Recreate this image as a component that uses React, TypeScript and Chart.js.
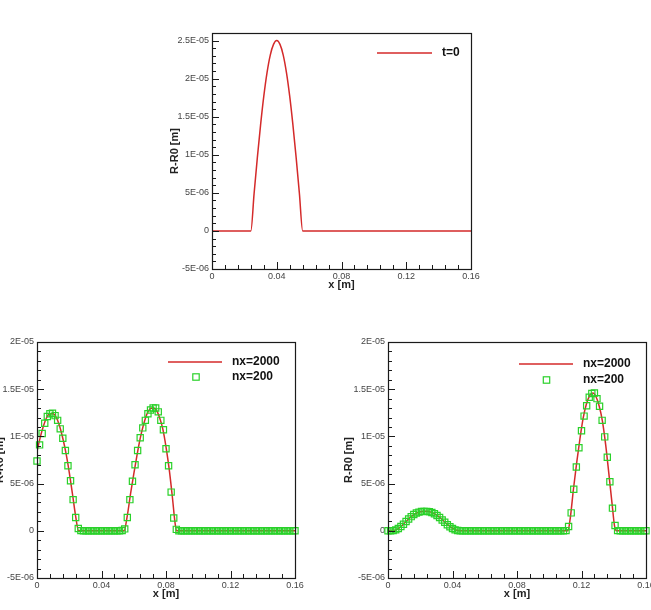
import React, { useEffect, useRef } from 'react';
import { Chart, registerables } from 'chart.js';
Chart.register(...registerables);

const FONT = "'Liberation Sans', Arial, sans-serif";
const RED = '#d42a2a';
const GREEN = '#2ad12a';

// ---- axis ticks / labels ----
const X_TICKS = [0, 0.04, 0.08, 0.12, 0.16];
const X_TICK_LABELS = ['0', '0.04', '0.08', '0.12', '0.16'];
// y values are in micrometres; labels show metres as in the original
const Y_TICKS_TOP = [-5, 0, 5, 10, 15, 20, 25];
const Y_TICK_LABELS_TOP = ['-5E-06', '0', '5E-06', '1E-05', '1.5E-05', '2E-05', '2.5E-05'];
const Y_TICKS_BOTTOM = [-5, 0, 5, 10, 15, 20];
const Y_TICK_LABELS_BOTTOM = ['-5E-06', '0', '5E-06', '1E-05', '1.5E-05', '2E-05'];

// ---- top panel: t=0 ----
const initX = [0, 0.024, 0.026, 0.028, 0.03, 0.032, 0.034, 0.036, 0.038, 0.04, 0.042, 0.044, 0.046, 0.048, 0.05, 0.052, 0.054, 0.056, 0.16];
const initY = [0, 0, 4.9, 9.6, 13.9, 17.7, 20.8, 23.1, 24.5, 25, 24.5, 23.1, 20.8, 17.7, 13.9, 9.6, 4.9, 0, 0];

// ---- bottom-left panel ----
const leftFineX = [0, 0.002, 0.004, 0.006, 0.008, 0.01, 0.012, 0.014, 0.016, 0.018, 0.02, 0.022, 0.024, 0.0258, 0.054, 0.056, 0.058, 0.06, 0.062, 0.064, 0.066, 0.068, 0.07, 0.072, 0.074, 0.076, 0.078, 0.08, 0.082, 0.084, 0.0855, 0.0865, 0.16];
const leftFineY = [8.4, 9.9, 11.1, 12.0, 12.4, 12.4, 12.0, 11.1, 9.8, 8.2, 6.2, 3.9, 1.5, 0, 0, 1.6, 3.9, 6.0, 8.0, 9.8, 11.2, 12.3, 12.9, 13.0, 12.8, 12.0, 10.8, 8.9, 6.5, 3.5, 1.0, 0, 0];

const coarseX = [
  0, 0.0016, 0.0032, 0.0048, 0.0064, 0.008, 0.0096, 0.0112, 0.0128, 0.0144,
  0.016, 0.0176, 0.0192, 0.0208, 0.0224, 0.024, 0.0256, 0.0272, 0.0288, 0.0304,
  0.032, 0.0336, 0.0352, 0.0368, 0.0384, 0.04, 0.0416, 0.0432, 0.0448, 0.0464,
  0.048, 0.0496, 0.0512, 0.0528, 0.0544, 0.056, 0.0576, 0.0592, 0.0608, 0.0624,
  0.064, 0.0656, 0.0672, 0.0688, 0.0704, 0.072, 0.0736, 0.0752, 0.0768, 0.0784,
  0.08, 0.0816, 0.0832, 0.0848, 0.0864, 0.088, 0.0896, 0.0912, 0.0928, 0.0944,
  0.096, 0.0976, 0.0992, 0.1008, 0.1024, 0.104, 0.1056, 0.1072, 0.1088, 0.1104,
  0.112, 0.1136, 0.1152, 0.1168, 0.1184, 0.12, 0.1216, 0.1232, 0.1248, 0.1264,
  0.128, 0.1296, 0.1312, 0.1328, 0.1344, 0.136, 0.1376, 0.1392, 0.1408, 0.1424,
  0.144, 0.1456, 0.1472, 0.1488, 0.1504, 0.152, 0.1536, 0.1552, 0.1568, 0.1584, 0.16,
];
const leftCoarseY = [
  7.4, 9.1, 10.3, 11.4, 12.1, 12.4, 12.45, 12.2, 11.7, 10.8,
  9.8, 8.5, 6.9, 5.3, 3.3, 1.4, 0.25, 0.02, 0, 0,
  0, 0, 0, 0, 0, 0, 0, 0, 0, 0,
  0, 0, 0, 0.03, 0.2, 1.4, 3.3, 5.25, 7.0, 8.5,
  9.85, 10.9, 11.7, 12.4, 12.8, 13.0, 13.0, 12.6, 11.7, 10.7,
  8.7, 6.9, 4.1, 1.35, 0.15, 0, 0, 0, 0, 0,
  0, 0, 0, 0, 0, 0, 0, 0, 0, 0,
  0, 0, 0, 0, 0, 0, 0, 0, 0, 0,
  0, 0, 0, 0, 0, 0, 0, 0, 0, 0,
  0, 0, 0, 0, 0, 0, 0, 0, 0, 0,
  0, 0, 0, 0, 0, 0, 0, 0, 0, 0, 0,
];

// ---- bottom-right panel ----
const rightFineX = [0, 0.003, 0.006, 0.009, 0.012, 0.015, 0.018, 0.021, 0.024, 0.027, 0.03, 0.033, 0.036, 0.039, 0.042, 0.045, 0.1115, 0.113, 0.115, 0.117, 0.119, 0.121, 0.123, 0.125, 0.127, 0.129, 0.131, 0.133, 0.135, 0.137, 0.139, 0.1405, 0.1418, 0.16];
const rightFineY = [0, 0.02, 0.18, 0.6, 1.12, 1.58, 1.9, 2.04, 2.06, 1.95, 1.68, 1.28, 0.8, 0.38, 0.08, 0, 0, 1.3, 4.4, 7.2, 9.7, 11.9, 13.4, 14.3, 14.6, 14.2, 13.2, 11.6, 9.1, 6.0, 2.8, 0.5, 0, 0];
const rightCoarseY = [
  0, 0, 0.02, 0.1, 0.25, 0.45, 0.7, 0.98, 1.25, 1.5,
  1.72, 1.88, 1.98, 2.04, 2.06, 2.06, 2.02, 1.93, 1.8, 1.62,
  1.4, 1.15, 0.9, 0.65, 0.42, 0.24, 0.1, 0.03, 0, 0,
  0, 0, 0, 0, 0, 0, 0, 0, 0, 0,
  0, 0, 0, 0, 0, 0, 0, 0, 0, 0,
  0, 0, 0, 0, 0, 0, 0, 0, 0, 0,
  0, 0, 0, 0, 0, 0, 0, 0, 0, 0.02,
  0.46, 1.9, 4.4, 6.75, 8.8, 10.6, 12.15, 13.25, 14.15, 14.55,
  14.6, 14.0, 13.2, 11.7, 9.95, 7.8, 5.2, 2.4, 0.56, 0.02,
  0, 0, 0, 0, 0, 0, 0, 0, 0, 0, 0,
];

const PAD_T = 15;
const PAD_R = 25;

const toPts = (xs: number[], ys: number[]) => xs.map((x, i) => ({ x, y: ys[i] }));

const lineDs = (label: string, xs: number[], ys: number[]) => ({
  label,
  data: toPts(xs, ys),
  showLine: true,
  borderColor: RED,
  backgroundColor: RED,
  borderWidth: 1.5,
  pointRadius: 0,
  cubicInterpolationMode: 'monotone',
  order: 2,
});

const markerDs = (label: string, xs: number[], ys: number[]) => ({
  label,
  data: toPts(xs, ys),
  showLine: false,
  pointStyle: 'rect',
  pointRadius: 4.4,
  pointBorderWidth: 1.2,
  borderColor: GREEN,
  backgroundColor: 'rgba(0,0,0,0)',
  clip: false,
  order: 1,
});

type Panel = {
  left: number; top: number; width: number; height: number;
  yAxisW: number; xAxisH: number; yMax: number;
  yTicks: number[]; yLabels: string[];
  datasets: any[];
  legend: any[];
};

const decorPlugin = {
  id: 'decor',
  afterDatasetsDraw(chart: any, _args: any, opts: any) {
    const { ctx, chartArea: a } = chart;
    const xs = chart.scales.x;
    const ys = chart.scales.y;
    ctx.save();
    ctx.strokeStyle = '#1a1a1a';
    ctx.lineWidth = 1;
    ctx.beginPath();
    const xt: number[] = X_TICKS;
    for (let i = 0; i < xt.length; i++) {
      const px = Math.round(xs.getPixelForValue(xt[i])) + 0.5;
      ctx.moveTo(px, a.bottom); ctx.lineTo(px, a.bottom - 7);
      if (i < xt.length - 1) {
        for (let j = 1; j < 5; j++) {
          const p = Math.round(xs.getPixelForValue(xt[i] + (xt[i + 1] - xt[i]) * j / 5)) + 0.5;
          ctx.moveTo(p, a.bottom); ctx.lineTo(p, a.bottom - 4);
        }
      }
    }
    const yt: number[] = opts.yTicks;
    for (let i = 0; i < yt.length; i++) {
      const py = Math.round(ys.getPixelForValue(yt[i])) + 0.5;
      ctx.moveTo(a.left, py); ctx.lineTo(a.left + 7, py);
      const next = i < yt.length - 1 ? yt[i + 1] : yt[i] + (yt[1] - yt[0]);
      for (let j = 1; j < 5; j++) {
        const v = yt[i] + (next - yt[i]) * j / 5;
        if (v > ys.max) break;
        const p = Math.round(ys.getPixelForValue(v)) + 0.5;
        ctx.moveTo(a.left, p); ctx.lineTo(a.left + 4, p);
      }
    }
    ctx.stroke();
    ctx.lineWidth = 1.2;
    ctx.strokeRect(Math.round(a.left) + 0.5, Math.round(a.top) + 0.5, Math.round(a.right - a.left), Math.round(a.bottom - a.top));

    // legend
    for (const it of opts.legend) {
      const y = a.top + it.y;
      if (it.kind === 'line') {
        ctx.strokeStyle = RED;
        ctx.lineWidth = 1.5;
        ctx.beginPath();
        ctx.moveTo(a.left + it.x0, y); ctx.lineTo(a.left + it.x1, y);
        ctx.stroke();
      } else {
        ctx.strokeStyle = GREEN;
        ctx.lineWidth = 1.2;
        ctx.strokeRect(a.left + it.mx - 3.2, y - 3.2, 6.4, 6.4);
      }
      ctx.fillStyle = '#111';
      ctx.font = `bold 12px ${FONT}`;
      ctx.textBaseline = 'middle';
      ctx.textAlign = 'left';
      ctx.fillText(it.text, a.left + it.tx, y);
    }
    ctx.restore();
  },
};

const PANELS: Panel[] = [
  {
    left: 212, top: 33, width: 259, height: 236, yAxisW: 44, xAxisH: 23, yMax: 26,
    yTicks: Y_TICKS_TOP, yLabels: Y_TICK_LABELS_TOP,
    datasets: [lineDs('t=0', initX, initY)],
    legend: [{ kind: 'line', x0: 165, x1: 220, y: 20, tx: 230, text: 't=0' }],
  },
  {
    left: 37, top: 342, width: 258, height: 236, yAxisW: 44, xAxisH: 23, yMax: 20,
    yTicks: Y_TICKS_BOTTOM, yLabels: Y_TICK_LABELS_BOTTOM,
    datasets: [lineDs('nx=2000', leftFineX, leftFineY), markerDs('nx=200', coarseX, leftCoarseY)],
    legend: [
      { kind: 'line', x0: 131, x1: 185, y: 20, tx: 195, text: 'nx=2000' },
      { kind: 'marker', mx: 159, y: 35, tx: 195, text: 'nx=200' },
    ],
  },
  {
    left: 388, top: 342, width: 258, height: 236, yAxisW: 46, xAxisH: 23, yMax: 20,
    yTicks: Y_TICKS_BOTTOM, yLabels: Y_TICK_LABELS_BOTTOM,
    datasets: [lineDs('nx=2000', rightFineX, rightFineY), markerDs('nx=200', coarseX, rightCoarseY)],
    legend: [
      { kind: 'line', x0: 131, x1: 185, y: 22, tx: 195, text: 'nx=2000' },
      { kind: 'marker', mx: 158.5, y: 38, tx: 195, text: 'nx=200' },
    ],
  },
];

function PanelChart({ p }: { p: Panel }) {
  const ref = useRef<HTMLCanvasElement>(null);
  const cw = p.yAxisW + p.width + PAD_R;
  const ch = PAD_T + p.height + p.xAxisH;
  useEffect(() => {
    const chart = new Chart(ref.current as HTMLCanvasElement, {
      type: 'scatter',
      data: { datasets: p.datasets as any },
      options: {
        animation: false,
        responsive: false,
        devicePixelRatio: 1,
        layout: { padding: { left: 0, top: PAD_T, right: PAD_R, bottom: 0 } },
        plugins: {
          legend: { display: false },
          tooltip: { enabled: false },
          decor: { yTicks: p.yTicks, legend: p.legend },
        } as any,
        scales: {
          x: {
            type: 'linear', min: 0, max: 0.16,
            grid: { display: false, drawTicks: false, tickLength: 0 }, border: { display: false },
            afterBuildTicks: (s: any) => { s.ticks = X_TICKS.map((v) => ({ value: v })); },
            afterFit: (s: any) => { s.height = p.xAxisH; s.paddingLeft = 0; s.paddingRight = 0; },
            ticks: {
              padding: 2, color: '#444', autoSkip: false, maxRotation: 0,
              font: { family: FONT, size: 9 },
              callback: (v: any) => X_TICK_LABELS[X_TICKS.findIndex((t) => Math.abs(t - v) < 1e-9)] ?? '',
            },
            title: { display: true, text: 'x [m]', color: '#222', padding: 0, font: { family: FONT, size: 11, weight: 'bold' } },
          },
          y: {
            type: 'linear', min: -5, max: p.yMax, position: 'left',
            grid: { display: false, drawTicks: false, tickLength: 0 }, border: { display: false },
            afterBuildTicks: (s: any) => { s.ticks = p.yTicks.map((v) => ({ value: v })); },
            afterFit: (s: any) => { s.width = p.yAxisW; s.paddingTop = 0; s.paddingBottom = 0; },
            ticks: {
              padding: 3, color: '#444', autoSkip: false,
              font: { family: FONT, size: 9 },
              callback: (v: any) => p.yLabels[p.yTicks.findIndex((t) => Math.abs(t - v) < 1e-9)] ?? '',
            },
            title: { display: true, text: 'R-R0 [m]', color: '#222', padding: 0, font: { family: FONT, size: 11, weight: 'bold' } },
          },
        } as any,
      },
      plugins: [decorPlugin],
    });
    return () => chart.destroy();
  }, []);
  return (
    <canvas
      ref={ref}
      width={cw}
      height={ch}
      style={{ position: 'absolute', left: p.left - p.yAxisW, top: p.top - PAD_T, width: cw, height: ch, display: 'block' }}
    />
  );
}

export default function App() {
  return (
    <div style={{ position: 'absolute', left: 0, top: 0, width: 651, height: 610, overflow: 'hidden', background: '#fff' }}>
      {PANELS.map((p, i) => <PanelChart key={i} p={p} />)}
    </div>
  );
}
